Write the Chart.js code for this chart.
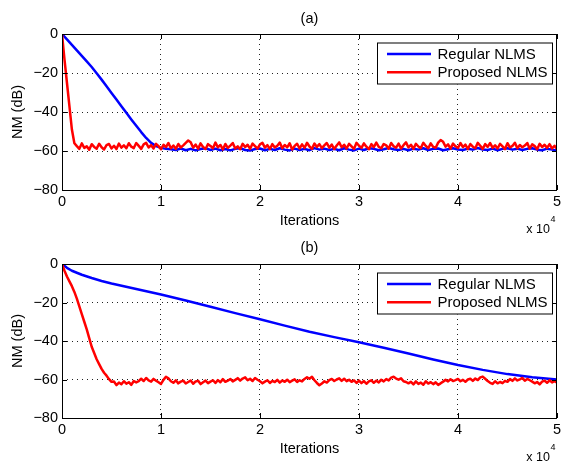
<!DOCTYPE html>
<html><head><meta charset="utf-8">
<script src="https://cdn.jsdelivr.net/npm/chart.js@4/dist/chart.umd.min.js"></script>
<style>
html,body{margin:0;padding:0;background:#fff;overflow:hidden;width:564px;height:464px;}
#ca{position:absolute;left:0;top:0;}
#cb{position:absolute;left:0;top:232px;}
</style></head><body>
<canvas id="ca" width="564" height="240"></canvas>
<canvas id="cb" width="564" height="232"></canvas>
<script>
// ---------------- data ----------------
const seriesLabels = ['Regular NLMS', 'Proposed NLMS'];
const panelLabels = ['(a)', '(b)'];
const xTickValues = [0, 10000, 20000, 30000, 40000, 50000];
const yTickValues = [0, -20, -40, -60, -80];

// panel (a) - Regular NLMS, one value every 500 iterations
const blueAStep = 500;
const blueA = [
  0,-2.8,-5.6,-8.4,-11.2,-14,-16.9,-20.1,-23.4,-26.8,-30.2,-33.6,-37,-40.4,-43.8,-47.1,-50.3,-53.3,-55.8,-57.5,-58.4,-58.9,-59.1,
  -59.5,-58.7,-59.6,-58.9,-59.7,-59.0,-58.6,-59.5,-58.8,-59.6,
  -59.0,-59.7,-58.9,-58.6,-59.5,-59.8,-59.0,-58.7,-59.6,-58.9,
  -59.5,-58.6,-59.3,-59.7,-58.8,-59.5,-58.9,-59.6,-58.5,-59.3,
  -58.8,-59.5,-58.9,-59.6,-58.6,-59.3,-59.7,-58.8,-59.5,-58.6,
  -58.9,-59.6,-59.1,-58.5,-59.1,-59.5,-58.9,-59.6,-58.8,-59.3,
  -58.6,-59.5,-58.9,-58.7,-59.6,-59.1,-58.6,-59.2,-59.5,-58.8,
  -59.3,-58.5,-59.2,-59.5,-58.8,-59.6,-58.9,-58.6,-59.3,-58.8,
  -59.5,-58.9,-58.6,-59.3,-59.6,-58.8,-59.3,-59.7
];
// panel (a) - Proposed NLMS, one value every 250 iterations
const redAStep = 250;
const redA = [
  0,-13,-25,-37,-49,-56,-57.5,
  -58.9,-56.1,-58.4,-57.6,-59.3,-56.5,-57.9,-58.8,-56.3,-58.1,
  -59.2,-57.0,-56.4,-58.7,-57.3,-59.0,-56.2,-58.3,-57.1,-58.6,
  -56.0,-57.8,-58.5,-55.9,-57.4,-58.9,-56.6,-55.8,-58.2,-57.0,
  -58.7,-56.3,-57.5,-59.1,-56.8,-58.0,-55.9,-58.6,-57.2,-58.9,
  -56.4,-58.2,-57.1,-55.8,-54.6,-55.5,-58.3,-56.7,-58.8,-56.1,
  -57.9,-59.0,-56.5,-57.4,-58.6,-55.7,-58.1,-56.9,-59.2,-56.4,
  -58.4,-57.2,-55.9,-58.7,-57.6,-59.1,-56.3,-58.0,-56.8,-58.9,
  -56.2,-57.5,-58.8,-56.6,-55.8,-58.3,-57.0,-59.0,-56.5,-58.2,
  -57.3,-55.7,-58.6,-56.9,-58.1,-56.0,-59.2,-57.4,-56.3,-58.7,
  -56.6,-58.4,-55.8,-57.7,-58.9,-56.2,-57.9,-56.5,-58.5,-57.1,
  -55.9,-58.3,-56.7,-59.0,-57.2,-55.6,-58.1,-56.8,-58.7,-56.3,
  -57.6,-58.9,-55.8,-57.3,-58.4,-56.1,-57.8,-59.1,-56.5,-58.0,
  -55.7,-57.9,-58.6,-56.4,-57.1,-58.8,-55.9,-57.6,-58.3,-56.2,
  -58.7,-57.0,-55.6,-58.2,-56.8,-58.9,-56.3,-57.7,-58.5,-55.8,
  -57.4,-58.6,-56.1,-57.9,-58.3,-55.7,-54.4,-55.3,-57.8,-56.6,
  -58.8,-56.2,-57.6,-58.5,-55.9,-58.0,-56.7,-59.0,-56.4,-57.8,
  -58.6,-55.8,-57.3,-58.9,-56.5,-57.9,-55.9,-58.4,-57.1,-58.7,
  -56.3,-57.6,-59.0,-56.0,-58.2,-57.4,-55.8,-58.6,-56.9,-58.1,
  -57.2,-55.9,-58.8,-56.6,-57.5,-59.1,-56.3,-58.0,-56.8,-58.4,
  -56.5,-58.7,-57.3,-59.0
];

// panel (b) - Regular NLMS, sampled iterations
const blueBIter = [0,500,1000,2000,3000,4000,5000,7500,10000,12500,15000,17500,20000,22500,25000,27500,30000,32500,35000,37500,40000,42500,45000,47500,50000];
const blueB = [0,-2,-3.5,-5.6,-7.3,-8.8,-10.1,-13,-15.8,-19,-22.2,-25.5,-28.7,-32,-35.2,-38,-40.7,-43.5,-46.5,-49.6,-52.5,-55,-57.2,-58.8,-60];
// panel (b) - Proposed NLMS, one value every 250 iterations
const redBStep = 250;
const redB = [
  0,-3.5,-6.5,-9,-11.5,-14.5,-18,-22,-26,-30,-34,-38.5,-43,-46.2,-49.5,-52,-54.5,-56.5,-58,-59.8,-61.2,
  -61.0,-62.9,-61.6,-62.5,-60.9,-62.2,-61.4,-62.8,-60.8,-61.5,
  -60.9,-59.6,-60.8,-59.2,-60.5,-61.1,-59.7,-60.6,-61.4,-62.3,
  -60.2,-58.6,-59.4,-60.9,-61.7,-60.4,-62.0,-61.1,-60.6,-62.1,
  -61.3,-60.5,-62.2,-61.0,-60.7,-62.4,-61.4,-60.6,-61.9,-61.1,
  -60.4,-61.8,-60.3,-61.4,-59.8,-61.2,-60.6,-59.7,-61.0,-60.2,
  -59.3,-60.6,-59.5,-58.9,-60.4,-59.6,-60.8,-59.2,-60.1,-60.9,
  -62.0,-61.1,-60.4,-61.8,-60.7,-61.3,-60.2,-61.6,-60.5,-61.2,
  -60.1,-61.4,-60.6,-59.9,-61.3,-60.4,-61.0,-59.7,-58.8,-59.6,
  -58.6,-60.4,-61.8,-63.0,-62.1,-60.9,-61.6,-60.3,-59.7,-60.8,
  -60.0,-59.4,-60.7,-59.6,-60.9,-60.1,-61.2,-60.5,-61.8,-60.6,
  -61.9,-60.8,-62.2,-61.0,-60.4,-61.7,-60.6,-61.5,-60.1,-61.0,
  -59.8,-60.5,-59.0,-58.6,-59.5,-60.1,-59.4,-60.9,-61.3,-62.0,
  -61.2,-62.5,-61.0,-62.3,-61.6,-62.7,-60.9,-62.1,-61.4,-62.4,
  -61.5,-62.8,-62.0,-61.1,-60.2,-61.0,-59.9,-60.8,-60.3,-59.7,
  -60.9,-60.2,-61.2,-60.0,-59.6,-60.7,-59.5,-60.3,-58.9,-58.5,
  -59.6,-60.8,-61.7,-62.3,-60.9,-62.0,-61.3,-61.9,-60.7,-61.2,
  -59.8,-60.7,-59.4,-60.5,-59.9,-59.2,-60.6,-59.7,-60.4,-61.1,
  -62.0,-61.3,-62.5,-61.1,-60.6,-61.7,-60.4,-61.5,-60.8,-61.6
];

// ---------------- rendering ----------------
Chart.defaults.font.family = "'Liberation Sans', Arial, Helvetica, sans-serif";
Chart.defaults.color = '#000';
const FS = 14.5;
const LFS = 15;

function stepPoints(vals, step){ return vals.map((v,i)=>({x:i*step, y:v})); }
function iterPoints(iters, vals){ return vals.map((v,i)=>({x:iters[i], y:v})); }

const decor = {
  id:'decor',
  afterDatasetsDraw(chart, args, o){
    const {ctx, chartArea:a, scales:{x, y}} = chart;
    ctx.save();
    // inner tick marks
    ctx.strokeStyle = '#000'; ctx.lineWidth = 1; ctx.setLineDash([]);
    ctx.beginPath();
    xTickValues.forEach(v=>{ const px = Math.round(x.getPixelForValue(v))+0.5;
      ctx.moveTo(px, a.bottom); ctx.lineTo(px, a.bottom-5);
      ctx.moveTo(px, a.top); ctx.lineTo(px, a.top+5); });
    yTickValues.forEach(v=>{ const py = Math.round(y.getPixelForValue(v))+0.5;
      ctx.moveTo(a.left, py); ctx.lineTo(a.left+5, py);
      ctx.moveTo(a.right, py); ctx.lineTo(a.right-5, py); });
    ctx.stroke();
    // frame
    ctx.strokeRect(Math.round(a.left)+0.5, Math.round(a.top)+0.5, Math.round(a.right-a.left)-1, Math.round(a.bottom-a.top));
    // legend
    const lx = 377, lw = 176, ly = a.top + 8.5, lh = 42;
    ctx.fillStyle = '#fff';
    ctx.fillRect(lx, ly, lw, lh);
    ctx.strokeRect(lx+0.5, ly+0.5, lw-1, lh-1);
    ctx.font = LFS + "px 'Liberation Sans', Arial, sans-serif";
    ctx.textBaseline = 'middle'; ctx.textAlign = 'left';
    chart.data.datasets.forEach((ds, i)=>{
      const ry = ly + 12 + i*18.3;
      ctx.strokeStyle = ds.borderColor; ctx.lineWidth = 2.5;
      ctx.beginPath(); ctx.moveTo(387, ry-0.5); ctx.lineTo(431, ry-0.5); ctx.stroke();
      ctx.fillStyle = '#000';
      ctx.fillText(ds.label, 437.5, ry+0.5);
    });
    // panel label
    ctx.font = FS + "px 'Liberation Sans', Arial, sans-serif";
    ctx.textAlign = 'center';
    ctx.fillText(o.panel, (a.left + a.right)/2, a.top - o.panelDy);
    // exponent label
    ctx.textAlign = 'right';
    ctx.font = "12.5px 'Liberation Sans', Arial, sans-serif";
    ctx.fillText('x 10', 550, a.bottom + 39.5);
    ctx.textAlign = 'left';
    ctx.font = "9px 'Liberation Sans', Arial, sans-serif";
    ctx.fillText('4', 550.5, a.bottom + 30);
    ctx.restore();
  }
};

function makeChart(id, panel, blueData, redData, L){
  return new Chart(document.getElementById(id), {
    type:'line',
    data:{datasets:[
      {label:seriesLabels[0], data:blueData, borderColor:'#0000ff', borderWidth:2.5, pointRadius:0, tension:0, order:1, borderJoinStyle:'round'},
      {label:seriesLabels[1], data:redData, borderColor:'#ff0000', borderWidth:2.5, pointRadius:0, tension:0, order:0, borderJoinStyle:'round'}
    ]},
    options:{
      responsive:false, animation:false, events:[],
      layout:{padding:{left:0, right:3, top:L.top, bottom:0}},
      plugins:{legend:{display:false}, tooltip:{enabled:false}, title:{display:false},
               decor:{panel:panel, panelDy:L.panelDy}},
      scales:{
        x:{type:'linear', min:0, max:50000,
           afterFit:(s)=>{s.height = L.xh;},
           afterBuildTicks:(s)=>{s.ticks = xTickValues.map(v=>({value:v}));},
           ticks:{padding:3, color:'#000', font:{size:FS}, maxRotation:0, autoSkip:false, callback:v=>String(v/10000)},
           grid:{color:'#222', lineWidth:1, drawTicks:false},
           border:{display:false, dash:[1,4]},
           title:{display:true, text:'Iterations', color:'#000', font:{size:FS}, padding:{top:0, bottom:L.xtpad}}},
        y:{type:'linear', min:-80, max:0,
           afterFit:(s)=>{s.width = 62;},
           afterBuildTicks:(s)=>{s.ticks = yTickValues.slice().reverse().map(v=>({value:v}));},
           ticks:{padding:4, color:'#000', font:{size:FS}, callback:v=>String(v).replace('-', '\u2212')},
           grid:{color:'#222', lineWidth:1, drawTicks:false},
           border:{display:false, dash:[1,4]},
           title:{display:true, text:'NM (dB)', color:'#000', font:{size:FS}, padding:{top:9, bottom:0}}}
      }
    },
    plugins:[decor]
  });
}

makeChart('ca', panelLabels[0], stepPoints(blueA, blueAStep), stepPoints(redA, redAStep), {top:34, xh:50, xtpad:10.8, panelDy:15});
makeChart('cb', panelLabels[1], iterPoints(blueBIter, blueB), stepPoints(redB, redBStep), {top:32, xh:46, xtpad:6.1, panelDy:16});
</script>
</body></html>
